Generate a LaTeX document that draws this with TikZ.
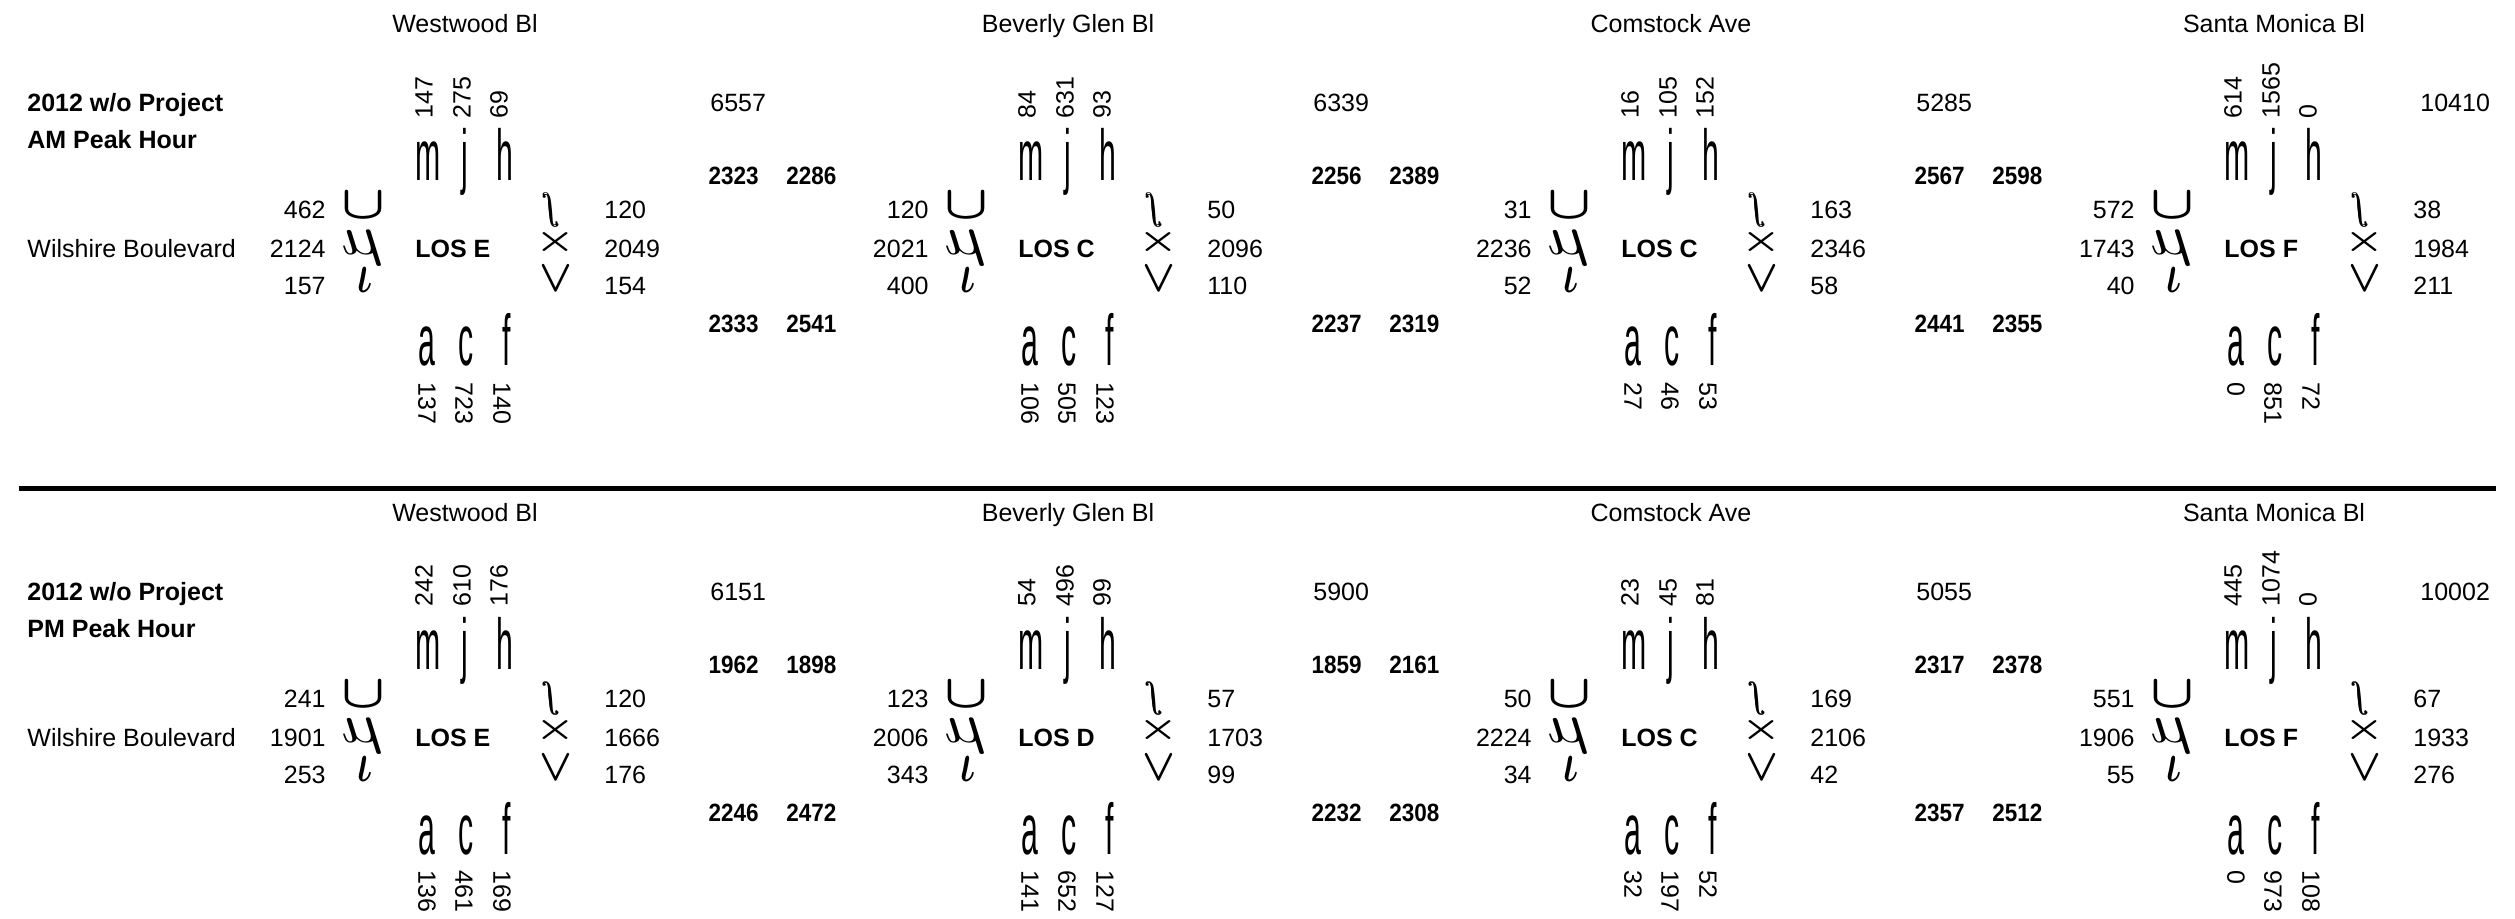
\documentclass[tikz,border=0pt]{standalone}
\usepackage{amsmath}
\usepackage{fontspec}
\usepackage{graphicx}
\setmainfont{Liberation Sans}
\newcommand\tgl[1]{\scalebox{0.42}[1]{\fontsize{36}{36}\selectfont #1}}
\newcommand\rszM[3]{\resizebox*{#1pt}{#2pt}{$\boldsymbol{#3}$}}
\newcommand\rszR[3]{\resizebox*{#1pt}{#2pt}{\reflectbox{$#3$}}}
\newcommand\pbnum[1]{\scalebox{0.9}[1]{#1}}
\tikzset{
  lbl/.style={inner sep=0pt, font=\fontsize{12.5}{15}\selectfont},
  bld/.style={inner sep=0pt, font=\fontsize{12.5}{15}\selectfont\bfseries},
  gl/.style={inner sep=0pt},
  sep/.style={line width=2.5pt},
}
% top approach: prefix, xj, three volumes
\newcommand\TopI[5]{%
  \node[lbl, rotate=90, anchor=west] (#1-t1) at ({#2-41},119) {#3};
  \node[lbl, rotate=90, anchor=west] (#1-t2) at ({#2-3},119) {#4};
  \node[lbl, rotate=90, anchor=west] (#1-t3) at ({#2+34},119) {#5};
  \node[gl, anchor=base] (#1-gm) at ({#2-37},181) {\tgl{m}};
  \node[gl, anchor=base] (#1-gj) at ({#2},181) {\tgl{j}};
  \node[gl, anchor=base] (#1-gh) at ({#2+40},181) {\tgl{h}};
}
\newcommand\BotI[5]{%
  \node[gl, anchor=base] (#1-ga) at ({#2-38},366) {\tgl{a}};
  \node[gl, anchor=base] (#1-gc) at ({#2+1},366) {\tgl{c}};
  \node[gl, anchor=base] (#1-gf) at ({#2+42},366) {\tgl{f}};
  \node[lbl, rotate=-90, anchor=west] (#1-b1) at ({#2-38},382) {#3};
  \node[lbl, rotate=-90, anchor=west] (#1-b2) at ({#2-1},382) {#4};
  \node[lbl, rotate=-90, anchor=west] (#1-b3) at ({#2+37},382) {#5};
}
\newcommand\LeftI[5]{%
  \node[lbl, anchor=base east] (#1-l1) at ({#2-139},219) {#3};
  \node[lbl, anchor=base east] (#1-l2) at ({#2-139},258) {#4};
  \node[lbl, anchor=base east] (#1-l3) at ({#2-139},295) {#5};
  \node[gl] (#1-gl1) at ({#2-102},206) {\rszM{22}{13}{\cup}};
  \node[gl] (#1-gl2) at ({#2-103},248) {\rszR{21}{17.5}{\mu}};
  \node[gl] (#1-gl3) at ({#2-100},280.5) {\rszM{7.5}{12.5}{\iota}};
}
\newcommand\RightI[5]{%
  \node[lbl, anchor=base west] (#1-r1) at ({#2+139},219) {#3};
  \node[lbl, anchor=base west] (#1-r2) at ({#2+139},258) {#4};
  \node[lbl, anchor=base west] (#1-r3) at ({#2+139},295) {#5};
  \node[gl] (#1-gr1) at ({#2+85},210) {\resizebox*{9pt}{17pt}{\reflectbox{\pmb{$\int$}}}};
  \node[gl] (#1-gr2) at ({#2+90},242.5) {\rszM{20}{13}{\times}};
  \node[gl] (#1-gr3) at ({#2+91},279.5) {\rszM{16.5}{12.5}{\vee}};
}
\newcommand\Head[3]{%
  \node[lbl, anchor=base] (#1-name) at ({#2},33) {#3};
}
\newcommand\Los[3]{%
  \node[bld, anchor=base west] (#1-los) at ({#2-50},258) {#3};
}
\newcommand\Btw[7]{%
  \node[lbl, anchor=base west] (#1-tot) at ({#2+245},112) {#3};
  \node[bld, anchor=base east] (#1-u1) at ({#2+294},185) {\pbnum{#4}};
  \node[bld, anchor=base west] (#1-u2) at ({#2+321},185) {\pbnum{#5}};
  \node[bld, anchor=base east] (#1-d1) at ({#2+294},333) {\pbnum{#6}};
  \node[bld, anchor=base west] (#1-d2) at ({#2+321},333) {\pbnum{#7}};
}
\begin{document}
\begin{tikzpicture}[x=0.5pt,y=-0.5pt]
\useasboundingbox (0,0) rectangle (2515,919);
% ---------------- AM ----------------
\node[bld, anchor=base west] (am-t1) at (27,112) {2012 w/o Project};
\node[bld, anchor=base west] (am-t2) at (27,149) {AM Peak Hour};
\node[lbl, anchor=base west] (am-wil) at (27,258) {Wilshire Boulevard};
% Westwood
\Head{aW}{465}{Westwood Bl}
\TopI{aW}{465}{147}{275}{69}
\LeftI{aW}{465}{462}{2124}{157}
\Los{aW}{465}{LOS E}
\RightI{aW}{465}{120}{2049}{154}
\BotI{aW}{465}{137}{723}{140}
\Btw{aW}{465}{6557}{2323}{2286}{2333}{2541}
% Beverly Glen
\Head{aB}{1068}{Beverly Glen Bl}
\TopI{aB}{1068}{84}{631}{93}
\LeftI{aB}{1068}{120}{2021}{400}
\Los{aB}{1068}{LOS C}
\RightI{aB}{1068}{50}{2096}{110}
\BotI{aB}{1068}{106}{505}{123}
\Btw{aB}{1068}{6339}{2256}{2389}{2237}{2319}
% Comstock
\Head{aC}{1671}{Comstock Ave}
\TopI{aC}{1671}{16}{105}{152}
\LeftI{aC}{1671}{31}{2236}{52}
\Los{aC}{1671}{LOS C}
\RightI{aC}{1671}{163}{2346}{58}
\BotI{aC}{1671}{27}{46}{53}
\Btw{aC}{1671}{5285}{2567}{2598}{2441}{2355}
% Santa Monica
\Head{aS}{2274}{Santa Monica Bl}
\TopI{aS}{2274}{614}{1565}{0}
\LeftI{aS}{2274}{572}{1743}{40}
\Los{aS}{2274}{LOS F}
\RightI{aS}{2274}{38}{1984}{211}
\BotI{aS}{2274}{0}{851}{72}
\node[lbl, anchor=base west] (aS-tot) at (2420,112) {10410};
% separator
\coordinate (sepL) at (19,488);
\coordinate (sepR) at (2496,488);
\draw[sep] (sepL) -- (sepR);
% ---------------- PM ----------------
\begin{scope}[yshift=-244pt]
\node[bld, anchor=base west] (pm-t1) at (27,112) {2012 w/o Project};
\node[bld, anchor=base west] (pm-t2) at (27,149) {PM Peak Hour};
\node[lbl, anchor=base west] (pm-wil) at (27,258) {Wilshire Boulevard};
\Head{pW}{465}{Westwood Bl}
\TopI{pW}{465}{242}{610}{176}
\LeftI{pW}{465}{241}{1901}{253}
\Los{pW}{465}{LOS E}
\RightI{pW}{465}{120}{1666}{176}
\BotI{pW}{465}{136}{461}{169}
\Btw{pW}{465}{6151}{1962}{1898}{2246}{2472}
\Head{pB}{1068}{Beverly Glen Bl}
\TopI{pB}{1068}{54}{496}{99}
\LeftI{pB}{1068}{123}{2006}{343}
\Los{pB}{1068}{LOS D}
\RightI{pB}{1068}{57}{1703}{99}
\BotI{pB}{1068}{141}{652}{127}
\Btw{pB}{1068}{5900}{1859}{2161}{2232}{2308}
\Head{pC}{1671}{Comstock Ave}
\TopI{pC}{1671}{23}{45}{81}
\LeftI{pC}{1671}{50}{2224}{34}
\Los{pC}{1671}{LOS C}
\RightI{pC}{1671}{169}{2106}{42}
\BotI{pC}{1671}{32}{197}{52}
\Btw{pC}{1671}{5055}{2317}{2378}{2357}{2512}
\Head{pS}{2274}{Santa Monica Bl}
\TopI{pS}{2274}{445}{1074}{0}
\LeftI{pS}{2274}{551}{1906}{55}
\Los{pS}{2274}{LOS F}
\RightI{pS}{2274}{67}{1933}{276}
\BotI{pS}{2274}{0}{973}{108}
\node[lbl, anchor=base west] (pS-tot) at (2420,112) {10002};
\end{scope}
\end{tikzpicture}
\end{document}
